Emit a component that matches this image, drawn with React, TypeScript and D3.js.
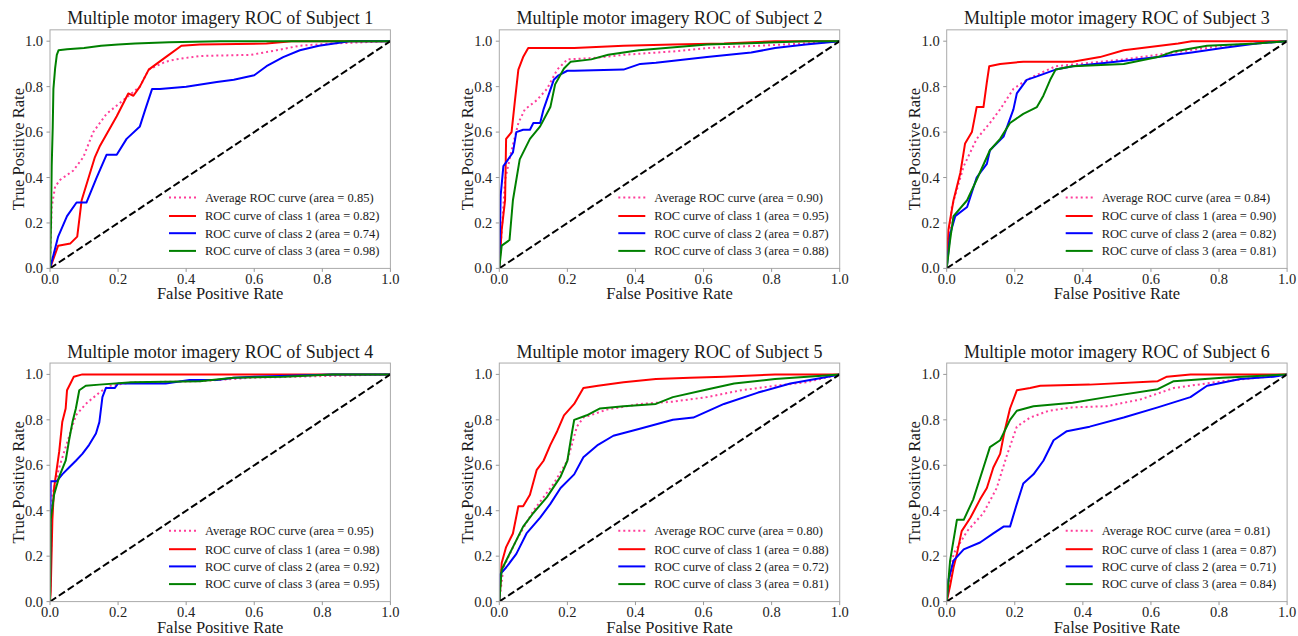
import React from "react";
import { scaleLinear, line } from "d3";

// ROC points [fpr, tpr], one array per curve
const s1Average = [[0,0],[0.005,0.27],[0.015,0.36],[0.03,0.39],[0.068,0.43],[0.098,0.49],[0.127,0.6],[0.166,0.68],[0.215,0.74],[0.264,0.8],[0.29,0.875],[0.34,0.91],[0.37,0.92],[0.44,0.935],[0.59,0.94],[0.665,0.96],[0.734,0.98],[0.83,0.99],[1,1]];
const s1Class1 = [[0,0],[0.024,0.1],[0.06,0.11],[0.08,0.14],[0.093,0.3],[0.132,0.49],[0.147,0.54],[0.196,0.67],[0.23,0.77],[0.245,0.76],[0.264,0.8],[0.29,0.875],[0.34,0.93],[0.386,0.98],[0.44,0.985],[0.636,0.99],[0.71,1],[1,1]];
const s1Class2 = [[0,0],[0.024,0.14],[0.05,0.23],[0.078,0.29],[0.107,0.29],[0.137,0.4],[0.166,0.5],[0.196,0.5],[0.225,0.57],[0.264,0.625],[0.28,0.7],[0.3,0.79],[0.323,0.79],[0.4,0.8],[0.49,0.82],[0.54,0.83],[0.6,0.85],[0.636,0.89],[0.685,0.93],[0.734,0.96],[0.79,0.98],[0.88,1],[1,1]];
const s1Class3 = [[0,0],[0.003,0.2],[0.005,0.45],[0.008,0.62],[0.01,0.79],[0.015,0.88],[0.02,0.94],[0.025,0.96],[0.05,0.965],[0.1,0.97],[0.15,0.98],[0.2,0.985],[0.25,0.99],[0.35,0.995],[0.5,1],[1,1]];

const s2Average = [[0,0],[0.017,0.39],[0.036,0.52],[0.056,0.64],[0.075,0.7],[0.11,0.74],[0.14,0.79],[0.17,0.875],[0.2,0.92],[0.27,0.925],[0.365,0.94],[0.51,0.955],[0.61,0.97],[0.76,0.98],[0.9,0.99],[1,1]];
const s2Class1 = [[0,0],[0.007,0.17],[0.017,0.3],[0.02,0.57],[0.036,0.6],[0.046,0.74],[0.056,0.875],[0.07,0.93],[0.085,0.97],[0.22,0.97],[0.365,0.98],[0.51,0.985],[0.66,0.99],[0.81,1],[1,1]];
const s2Class2 = [[0,0],[0.004,0.32],[0.012,0.45],[0.04,0.51],[0.05,0.6],[0.07,0.61],[0.09,0.61],[0.1,0.64],[0.12,0.64],[0.13,0.7],[0.16,0.83],[0.174,0.85],[0.2,0.87],[0.22,0.87],[0.365,0.875],[0.414,0.9],[0.46,0.905],[0.61,0.93],[0.74,0.95],[0.81,0.97],[0.9,0.985],[1,1]];
const s2Class3 = [[0,0],[0.007,0.1],[0.03,0.125],[0.04,0.3],[0.06,0.48],[0.09,0.57],[0.12,0.625],[0.15,0.71],[0.164,0.81],[0.19,0.88],[0.21,0.91],[0.27,0.92],[0.32,0.94],[0.41,0.96],[0.61,0.985],[0.71,0.99],[0.9,1],[1,1]];

const s3Average = [[0,0],[0.015,0.27],[0.05,0.45],[0.088,0.57],[0.127,0.64],[0.157,0.7],[0.196,0.79],[0.225,0.82],[0.255,0.845],[0.32,0.89],[0.52,0.92],[0.667,0.95],[0.81,0.98],[0.91,0.99],[1,1]];
const s3Class1 = [[0,0],[0.005,0.17],[0.02,0.3],[0.04,0.42],[0.054,0.55],[0.074,0.6],[0.088,0.71],[0.108,0.71],[0.118,0.82],[0.125,0.89],[0.157,0.9],[0.225,0.91],[0.37,0.91],[0.45,0.93],[0.52,0.96],[0.68,0.99],[0.72,1],[1,1]];
const s3Class2 = [[0,0],[0.01,0.15],[0.025,0.23],[0.06,0.27],[0.088,0.4],[0.118,0.46],[0.127,0.52],[0.167,0.58],[0.196,0.7],[0.206,0.77],[0.235,0.83],[0.265,0.845],[0.32,0.875],[0.37,0.89],[0.47,0.905],[0.62,0.93],[0.72,0.95],[0.81,0.97],[0.91,0.99],[1,1]];
const s3Class3 = [[0,0],[0.01,0.125],[0.02,0.23],[0.06,0.3],[0.088,0.39],[0.127,0.52],[0.157,0.57],[0.186,0.64],[0.225,0.68],[0.265,0.71],[0.284,0.76],[0.304,0.83],[0.32,0.875],[0.37,0.89],[0.52,0.9],[0.62,0.93],[0.667,0.955],[0.765,0.98],[0.91,0.99],[1,1]];

const s4Average = [[0,0],[0.007,0.47],[0.027,0.59],[0.046,0.68],[0.076,0.82],[0.105,0.87],[0.145,0.92],[0.174,0.95],[0.24,0.965],[0.44,0.97],[0.59,0.985],[0.73,0.99],[1,1]];
const s4Class1 = [[0,0],[0.002,0.04],[0.007,0.36],[0.012,0.5],[0.027,0.66],[0.036,0.79],[0.046,0.85],[0.05,0.93],[0.06,0.96],[0.07,0.99],[0.095,1],[1,1]];
const s4Class2 = [[0,0],[0.002,0.53],[0.02,0.53],[0.036,0.56],[0.056,0.59],[0.076,0.62],[0.095,0.65],[0.115,0.69],[0.135,0.74],[0.145,0.79],[0.154,0.9],[0.164,0.94],[0.19,0.94],[0.2,0.96],[0.34,0.96],[0.41,0.975],[0.49,0.975],[0.54,0.985],[0.6,0.99],[0.83,1],[1,1]];
const s4Class3 = [[0,0],[0.002,0.36],[0.012,0.47],[0.027,0.55],[0.046,0.62],[0.056,0.71],[0.066,0.79],[0.076,0.85],[0.086,0.93],[0.105,0.95],[0.145,0.955],[0.24,0.965],[0.44,0.97],[0.54,0.985],[0.685,0.99],[0.83,1],[1,1]];

const s5Average = [[0,0],[0.012,0.15],[0.05,0.27],[0.1,0.4],[0.16,0.52],[0.2,0.62],[0.228,0.77],[0.247,0.81],[0.316,0.845],[0.414,0.87],[0.51,0.88],[0.61,0.9],[0.71,0.93],[0.81,0.95],[0.9,0.965],[1,1]];
const s5Class1 = [[0,0],[0.007,0.17],[0.02,0.24],[0.04,0.3],[0.056,0.42],[0.07,0.42],[0.09,0.47],[0.11,0.58],[0.13,0.62],[0.15,0.69],[0.17,0.75],[0.19,0.82],[0.22,0.87],[0.247,0.94],[0.29,0.95],[0.365,0.965],[0.46,0.98],[0.56,0.985],[0.66,0.99],[0.81,1],[1,1]];
const s5Class2 = [[0,0],[0.002,0.12],[0.02,0.15],[0.05,0.21],[0.08,0.3],[0.12,0.37],[0.15,0.43],[0.18,0.5],[0.22,0.56],[0.247,0.635],[0.29,0.69],[0.335,0.73],[0.41,0.76],[0.51,0.8],[0.57,0.81],[0.66,0.87],[0.76,0.92],[0.855,0.96],[0.95,0.985],[1,1]];
const s5Class3 = [[0,0],[0.007,0.14],[0.02,0.18],[0.04,0.24],[0.07,0.33],[0.1,0.39],[0.14,0.46],[0.18,0.55],[0.2,0.62],[0.213,0.74],[0.22,0.8],[0.257,0.82],[0.296,0.85],[0.365,0.86],[0.46,0.87],[0.51,0.9],[0.6,0.93],[0.69,0.96],[0.81,0.98],[1,1]];

const s6Average = [[0,0],[0.02,0.21],[0.06,0.31],[0.108,0.39],[0.147,0.5],[0.176,0.64],[0.206,0.77],[0.245,0.81],[0.3,0.84],[0.37,0.855],[0.47,0.86],[0.57,0.89],[0.667,0.94],[0.81,0.97],[0.91,0.985],[1,1]];
const s6Class1 = [[0,0],[0.01,0.07],[0.02,0.15],[0.03,0.21],[0.044,0.31],[0.07,0.37],[0.098,0.45],[0.118,0.5],[0.137,0.59],[0.157,0.65],[0.17,0.75],[0.186,0.85],[0.206,0.93],[0.245,0.94],[0.275,0.95],[0.42,0.955],[0.62,0.97],[0.647,0.99],[0.716,1],[1,1]];
const s6Class2 = [[0,0],[0.005,0.095],[0.02,0.18],[0.05,0.23],[0.098,0.26],[0.137,0.3],[0.167,0.33],[0.186,0.33],[0.206,0.43],[0.225,0.52],[0.255,0.56],[0.284,0.62],[0.314,0.71],[0.353,0.75],[0.42,0.77],[0.52,0.81],[0.62,0.855],[0.716,0.9],[0.765,0.95],[0.863,0.98],[0.96,0.99],[1,1]];
const s6Class3 = [[0,0],[0.01,0.18],[0.03,0.36],[0.05,0.36],[0.078,0.45],[0.108,0.59],[0.127,0.68],[0.157,0.71],[0.186,0.8],[0.206,0.84],[0.255,0.86],[0.37,0.875],[0.47,0.9],[0.62,0.935],[0.667,0.97],[0.81,0.985],[1,1]];

const subjects = ["1", "2", "3", "4", "5", "6"];
const averageAreas = ["0.85", "0.90", "0.84", "0.95", "0.80", "0.81"];
const class1Areas = ["0.82", "0.95", "0.90", "0.98", "0.88", "0.87"];
const class2Areas = ["0.74", "0.87", "0.82", "0.92", "0.72", "0.71"];
const class3Areas = ["0.98", "0.88", "0.81", "0.95", "0.81", "0.84"];
const ticks = [0, 0.2, 0.4, 0.6, 0.8, 1.0];

const averageCurves = [s1Average, s2Average, s3Average, s4Average, s5Average, s6Average];
const class1Curves = [s1Class1, s2Class1, s3Class1, s4Class1, s5Class1, s6Class1];
const class2Curves = [s1Class2, s2Class2, s3Class2, s4Class2, s5Class2, s6Class2];
const class3Curves = [s1Class3, s2Class3, s3Class3, s4Class3, s5Class3, s6Class3];

const FONT = '"Liberation Serif", "Times New Roman", Times, "DejaVu Serif", serif';
const colLefts = [50, 499.3, 946.7];
const rowBottoms = [268.4, 601.6];
const plotW = 340.4;
const unitH = 227.2;

function RocPanel({ idx }: { idx: number }) {
  const left = colLefts[idx % 3];
  const bottom = rowBottoms[Math.floor(idx / 3)];
  const x = scaleLinear().domain([0, 1]).range([left, left + plotW]);
  const y = scaleLinear().domain([0, 1.05]).range([bottom, bottom - unitH * 1.05]);
  const top = y(1.05);
  const path = line<number[]>().x(d => x(d[0])).y(d => y(d[1]));
  const clipId = `clip-${idx}`;

  const series = [
    { pts: averageCurves[idx], color: "#ff3d9a", dash: "2,3", label: `Average ROC curve (area = ${averageAreas[idx]})` },
    { pts: class1Curves[idx], color: "#ff0000", dash: null, label: `ROC curve of class 1 (area = ${class1Areas[idx]})` },
    { pts: class2Curves[idx], color: "#0000ff", dash: null, label: `ROC curve of class 2 (area = ${class2Areas[idx]})` },
    { pts: class3Curves[idx], color: "#008000", dash: null, label: `ROC curve of class 3 (area = ${class3Areas[idx]})` },
  ];
  const legendOffsets = [70.8, 52.4, 35.2, 17.5];

  return (
    <g>
      <defs>
        <clipPath id={clipId}>
          <rect x={left} y={top} width={plotW} height={bottom - top} />
        </clipPath>
      </defs>
      <text x={left + plotW / 2} y={top - 5.5} textAnchor="middle" fontSize={18} fill="#1a1a1a">
        {`Multiple motor imagery ROC of Subject ${subjects[idx]}`}
      </text>
      <g clipPath={`url(#${clipId})`}>
        {series.map((s, i) => (
          <path key={i} d={path(s.pts) || ""} fill="none" stroke={s.color} strokeWidth={2}
            strokeDasharray={s.dash || undefined} strokeLinejoin="round" />
        ))}
        <path d={path([[0, 0], [1, 1]]) || ""} fill="none" stroke="#000" strokeWidth={2} strokeDasharray="7.4,3.2" />
      </g>
      <rect x={left} y={top} width={plotW} height={bottom - top} fill="none" stroke="#aaa" strokeWidth={1} />
      {ticks.map(t => (
        <g key={`x${t}`}>
          <line x1={x(t)} x2={x(t)} y1={bottom} y2={bottom + 3.5} stroke="#999" />
          <text x={x(t)} y={bottom + 15.5} textAnchor="middle" fontSize={14.5} fill="#222">{t.toFixed(1)}</text>
        </g>
      ))}
      {ticks.map(t => (
        <g key={`y${t}`}>
          <line x1={left - 3.5} x2={left} y1={y(t)} y2={y(t)} stroke="#999" />
          <text x={left - 7} y={y(t) + 5} textAnchor="end" fontSize={14.5} fill="#222">{t.toFixed(1)}</text>
        </g>
      ))}
      <text x={left + plotW / 2} y={bottom + 31} textAnchor="middle" fontSize={16.5} fill="#1a1a1a">False Positive Rate</text>
      <text transform={`translate(${left - 26.5},${(top + bottom) / 2}) rotate(-90)`} textAnchor="middle" fontSize={16.5} fill="#1a1a1a">
        True Positive Rate
      </text>
      {series.map((s, i) => {
        const ly = bottom - legendOffsets[i];
        return (
          <g key={`lg${i}`}>
            <line x1={left + 119} x2={left + 146} y1={ly} y2={ly} stroke={s.color} strokeWidth={2} strokeDasharray={s.dash || undefined} />
            <text x={left + 155} y={ly + 4.3} fontSize={12.5} fill="#1a1a1a">{s.label}</text>
          </g>
        );
      })}
    </g>
  );
}

export default function App() {
  return (
    <svg width={1298} height={636} style={{ position: "absolute", left: 0, top: 0, background: "#fff", fontFamily: FONT }}>
      <rect width={1298} height={636} fill="#fff" />
      {subjects.map((_, i) => <RocPanel key={i} idx={i} />)}
    </svg>
  );
}
